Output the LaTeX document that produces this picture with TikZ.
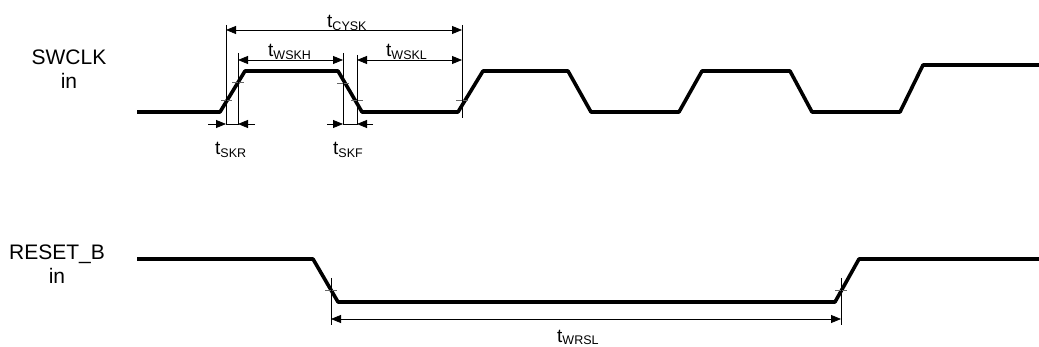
\documentclass[tikz,border=0pt]{standalone}
\usepackage{fontspec}
\setmainfont{Liberation Sans}
\usetikzlibrary{arrows.meta}
\newcommand\tlab[1]{\fontsize{19}{22}\selectfont t\raisebox{-2.2pt}{\fontsize{12.5}{14}\selectfont #1}}
\begin{document}
\begin{tikzpicture}[x=1pt,y=-1pt,
  sig/.style={line width=3.6pt,line join=round},
  vline/.style={line width=0.8pt},
  tickm/.style={line width=0.7pt,black!60},
  dimarr/.style={line width=0.8pt,{Triangle[length=10pt,width=8pt]}-{Triangle[length=10pt,width=8pt]}},
  onearr/.style={line width=0.8pt,-{Triangle[length=10pt,width=8pt]}},
  signame/.style={font=\fontsize{21}{24}\selectfont,align=center,anchor=base,inner sep=0pt},
  tlabel/.style={anchor=base west,inner sep=0pt}]
\useasboundingbox (0,0) rectangle (1039,347);
% signal names
\node[signame] (swclk) at (69,89) {SWCLK\\in};
\node[signame] (reset) at (57,284) {RESET\_B\\in};
% SWCLK waveform
\draw[sig] (137,112) -- (220,112) -- (245,71) -- (338,71) -- (362,112) -- (458,112) -- (483,71)
  -- (568,71) -- (591,112) -- (679,112) -- (702,71) -- (790,71) -- (812,112) -- (900,112)
  -- (923,65) -- (1039,65);
% RESET_B waveform
\draw[sig] (137,259) -- (313,259) -- (338,302) -- (835,302) -- (859,259) -- (1039,259);
% threshold ticks
\draw[tickm] (221,100) -- (232,100);
\draw[tickm] (232,82) -- (244,82);
\draw[tickm] (337,83) -- (349,83);
\draw[tickm] (351,100) -- (363,100);
\draw[tickm] (456,100) -- (468,100);
\draw[tickm] (325,290) -- (337,290);
\draw[tickm] (835,290) -- (847,290);
% vertical reference lines
\coordinate (a1) at (226,25);  \coordinate (a2) at (226,125);
\coordinate (b1) at (238,53);  \coordinate (b2) at (238,125);
\coordinate (c1) at (343,53);  \coordinate (c2) at (343,125);
\coordinate (d1) at (357,55);  \coordinate (d2) at (357,125);
\coordinate (e1) at (462,25);  \coordinate (e2) at (462,118);
\coordinate (f1) at (331,278); \coordinate (f2) at (331,325);
\coordinate (g1) at (841,278); \coordinate (g2) at (841,325);
\foreach \p in {a,b,c,d,e,f,g} \draw[vline] (\p1) -- (\p2);
% dimension arrows
\coordinate (cy1) at (226,30); \coordinate (cy2) at (462,30);
\draw[dimarr] (cy1) -- (cy2);
\coordinate (wh1) at (238,60); \coordinate (wh2) at (343,60);
\draw[dimarr] (wh1) -- (wh2);
\coordinate (wl1) at (357,60); \coordinate (wl2) at (462,60);
\draw[dimarr] (wl1) -- (wl2);
\coordinate (wr1) at (331,319); \coordinate (wr2) at (841,319);
\draw[dimarr] (wr1) -- (wr2);
% rise / fall time arrows
\coordinate (r0) at (208,124); \coordinate (r1) at (226,124);
\coordinate (r2) at (238,124); \coordinate (r3) at (255,124);
\draw[onearr] (r0) -- (r1);
\draw[onearr] (r3) -- (r2);
\draw[line width=0.8pt] (r1) -- (r2);
\coordinate (s0) at (327,124); \coordinate (s1) at (343,124);
\coordinate (s2) at (357,124); \coordinate (s3) at (373,124);
\draw[onearr] (s0) -- (s1);
\draw[onearr] (s3) -- (s2);
\draw[line width=0.8pt] (s1) -- (s2);
% labels
\node[tlabel] (lcysk) at (327,28) {\tlab{CYSK}};
\node[tlabel] (lwskh) at (268,57) {\tlab{WSKH}};
\node[tlabel] (lwskl) at (386,57) {\tlab{WSKL}};
\node[tlabel] (lskr) at (215,155) {\tlab{SKR}};
\node[tlabel] (lskf) at (333,155) {\tlab{SKF}};
\node[tlabel] (lwrsl) at (557,342) {\tlab{WRSL}};
\end{tikzpicture}
\end{document}
